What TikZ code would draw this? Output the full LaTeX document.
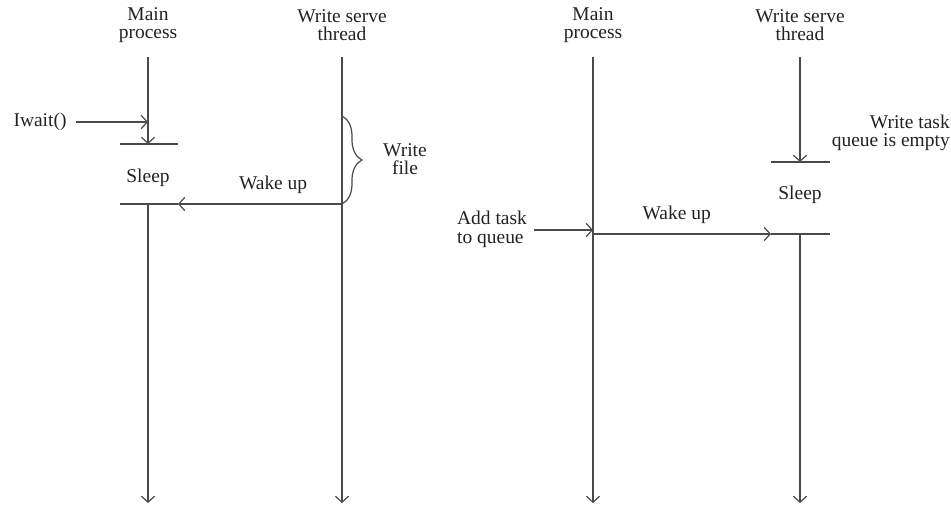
\documentclass[tikz,border=0pt]{standalone}
\usepackage{fontspec}
\setmainfont{Liberation Serif}
\usetikzlibrary{arrows.meta,decorations.pathreplacing}
\definecolor{ink}{HTML}{4A4A4A}
\definecolor{txt}{HTML}{222222}
\tikzset{
  flow/.style={draw=ink,line width=0.9pt,-{Straight Barb[length=4.5pt,width=10pt,line width=0.9pt]}},
  bar/.style={draw=ink,line width=0.9pt},
  lbl/.style={text=txt,font=\fontsize{14.6}{14}\selectfont,align=center,inner sep=0pt},
}
\begin{document}
\begin{tikzpicture}[x=0.75pt,y=-0.75pt]
\useasboundingbox (0,0) rectangle (951,507);

% ---- left panel: main process waits for the writer ----
\node[lbl] (hA) at (148,25) {Main\\process};
\node[lbl] (hB) at (342,25) {Write serve\\thread};

\coordinate (aTop) at (148,57);
\coordinate (aSleepIn) at (148,144);
\coordinate (aSleepOut) at (148,204);
\coordinate (aEnd) at (148,503);
\coordinate (bTop) at (342,57);
\coordinate (bWake) at (342,204);
\coordinate (bEnd) at (342,503);

\coordinate (barA1l) at (120,144); \coordinate (barA1r) at (178,144);
\coordinate (barA2l) at (120,204); \coordinate (barA2r) at (178,204);
\draw[bar] (barA1l) -- (barA1r);
\draw[bar] (barA2l) -- (barA2r);

\draw[flow] (aTop) -- (aSleepIn);
\draw[flow] (aSleepOut) -- (aEnd);
\draw[flow] (bTop) -- (bEnd);

\node[lbl] (iwait) at (40,122) {Iwait()};
\coordinate (aCall) at (148,122);
\draw[flow] ([xshift=7pt]iwait.east) -- (aCall);

\node[lbl] (sleepA) at (148,178) {Sleep};

\draw[flow] (bWake) -- (barA2r) node[lbl,pos=0.42,above=7pt] (wakeA) {Wake up};

\coordinate (brTop) at (342,116);
\draw[draw=ink,line width=0.9pt,decorate,
      decoration={brace,amplitude=15pt}] (brTop) -- (bWake);
\node[lbl] (wfile) at (405,159) {Write\\file};

% ---- right panel: writer sleeps until a task is queued ----
\node[lbl] (hC) at (593,25) {Main\\process};
\node[lbl] (hD) at (800,25) {Write serve\\thread};

\coordinate (cTop) at (593,57);
\coordinate (cWake) at (593,234);
\coordinate (cEnd) at (593,503);
\coordinate (dTop) at (800,57);
\coordinate (dSleepIn) at (800,162);
\coordinate (dSleepOut) at (800,234);
\coordinate (dEnd) at (800,503);

\coordinate (barD1l) at (771,162); \coordinate (barD1r) at (830,162);
\coordinate (barD2l) at (771,234); \coordinate (barD2r) at (830,234);
\draw[bar] (barD1l) -- (barD1r);
\draw[bar] (barD2l) -- (barD2r);

\draw[flow] (cTop) -- (cEnd);
\draw[flow] (dTop) -- (dSleepIn);
\draw[flow] (dSleepOut) -- (dEnd);

\node[lbl,anchor=east,align=right] (empty) at (950,133) {Write task\\queue is empty};
\node[lbl] (sleepD) at (800,195) {Sleep};

\node[lbl,align=left] (addtask) at (492,229) {Add task\\to queue};
\coordinate (cAdd) at (593,230);
\draw[flow] ([xshift=5pt]addtask.east |- cAdd) -- (cAdd);

\draw[flow] (cWake) -- (barD2l) node[lbl,pos=0.47,above=7pt] (wakeD) {Wake up};
\end{tikzpicture}
\end{document}
